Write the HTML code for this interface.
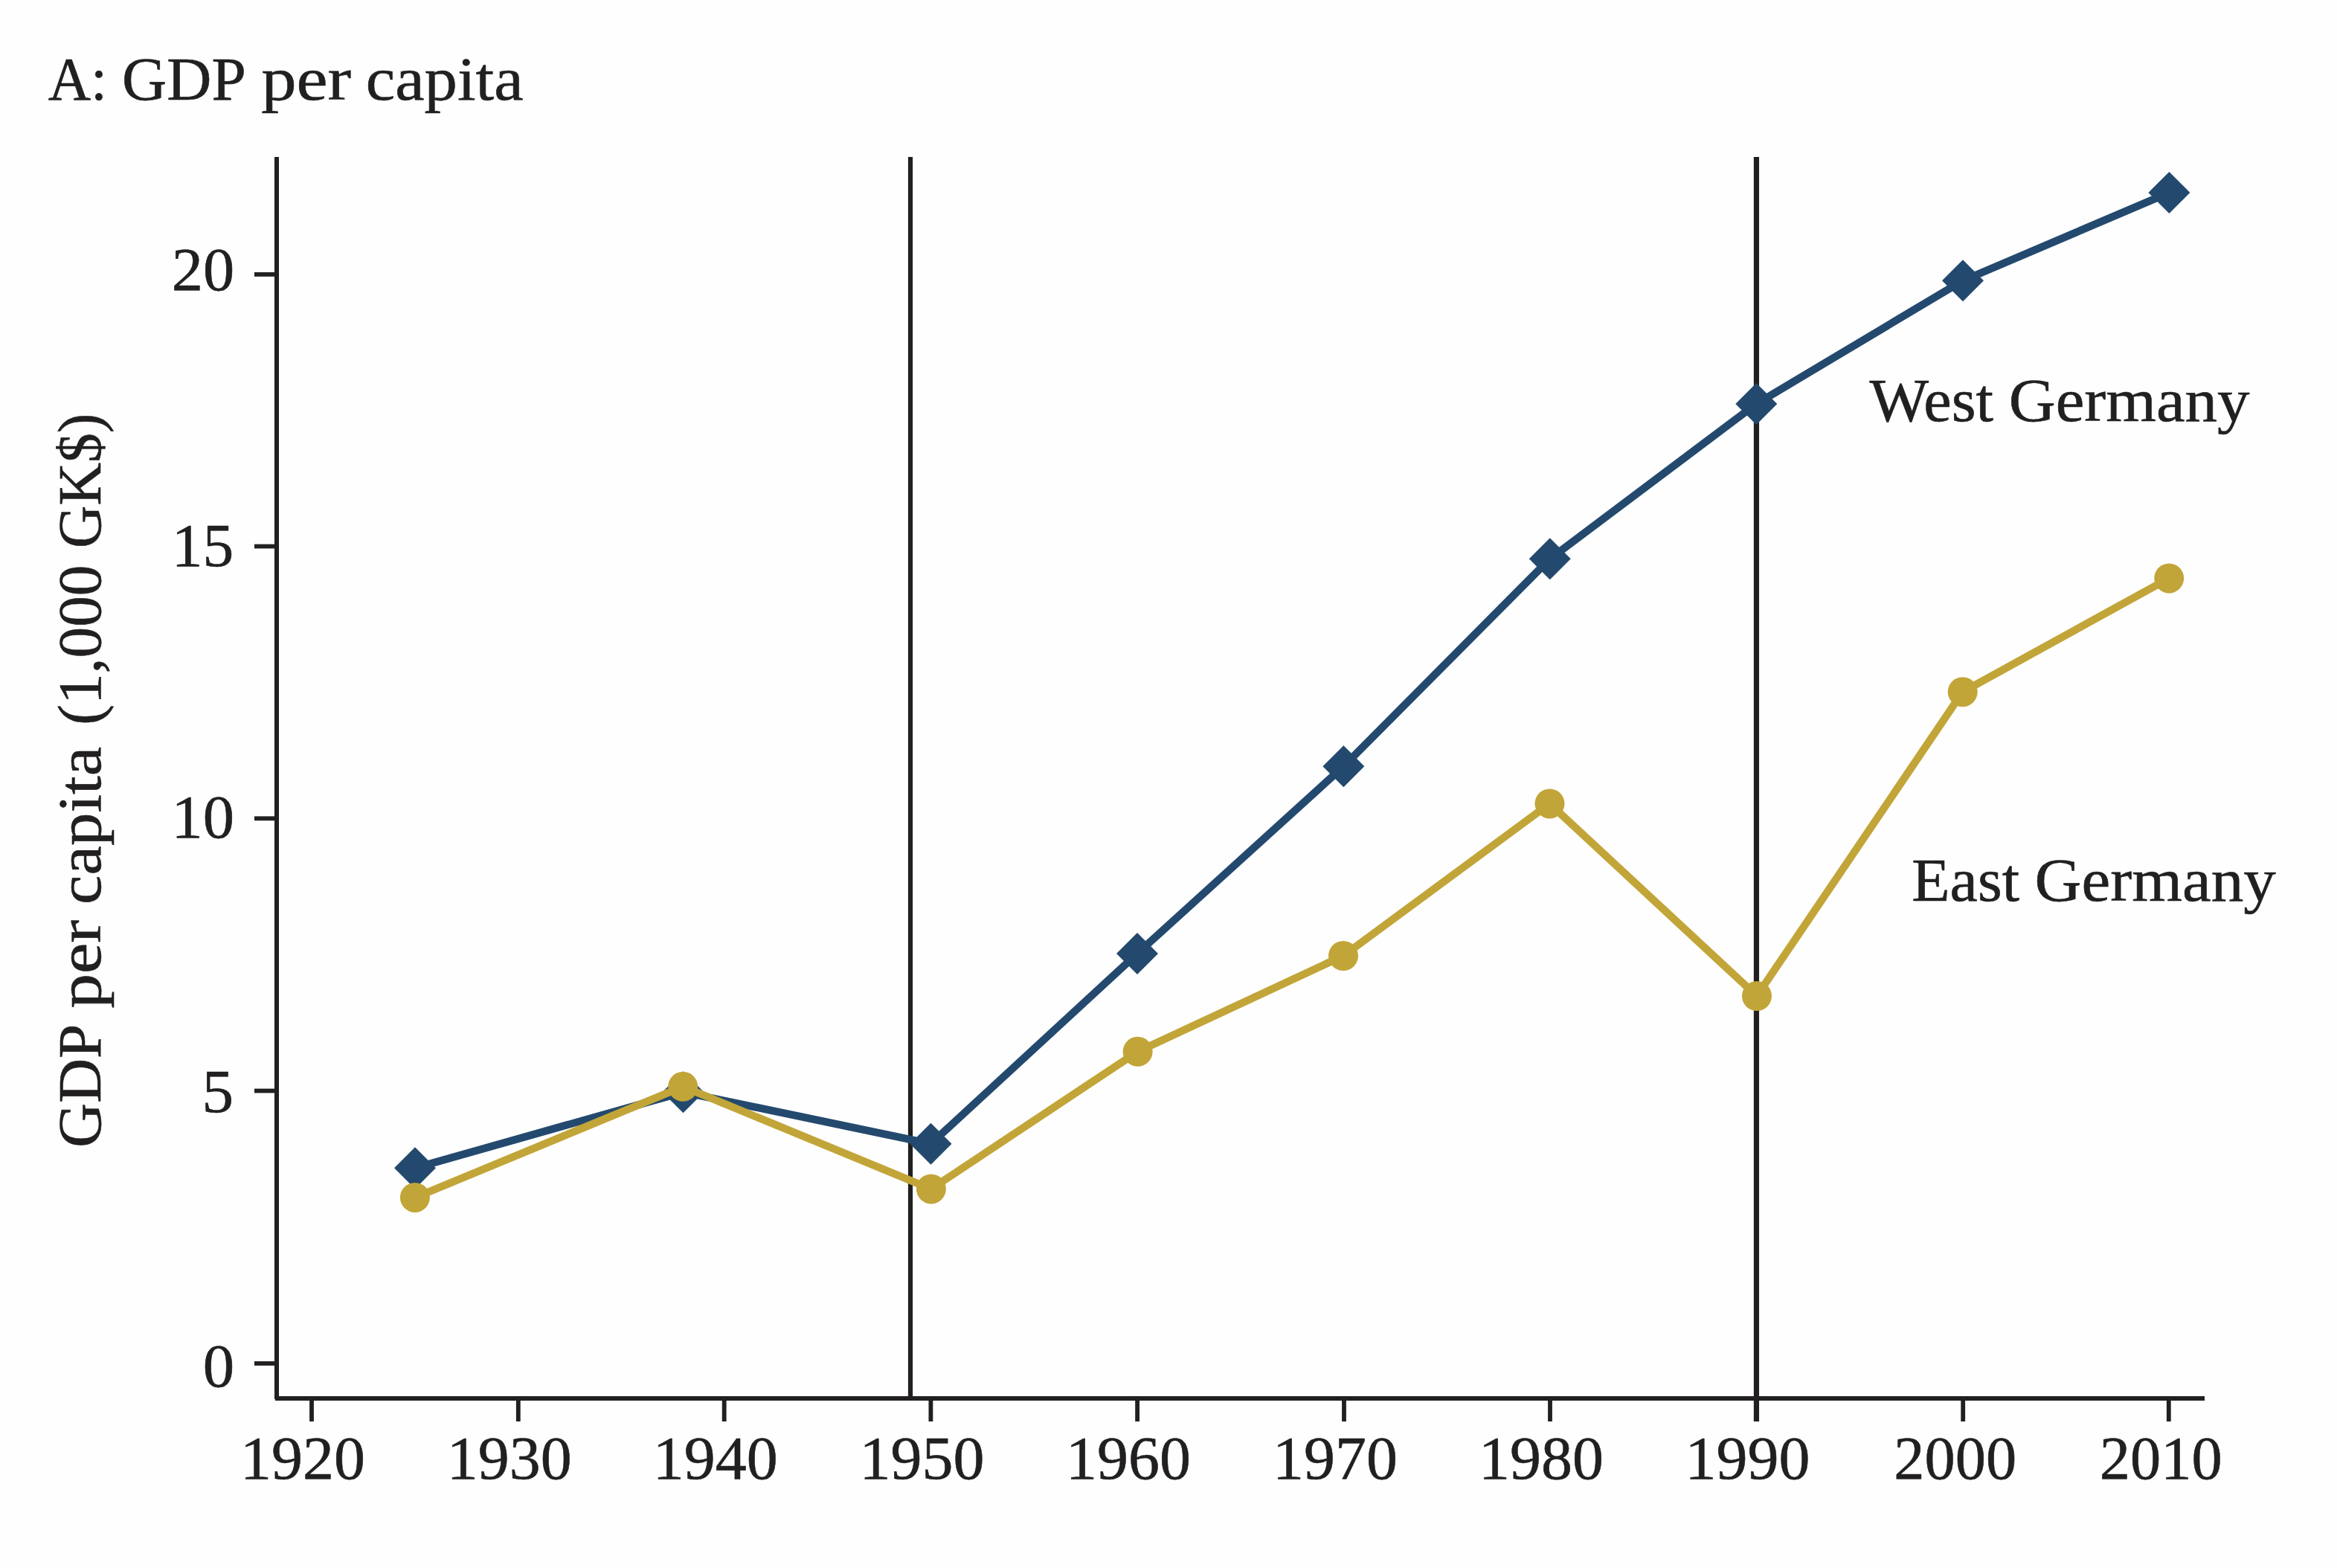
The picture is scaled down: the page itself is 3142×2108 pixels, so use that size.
<!DOCTYPE html>
<html><head><meta charset="utf-8"><title>GDP per capita</title>
<style>html,body{margin:0;padding:0;background:#fff;width:3142px;height:2108px;overflow:hidden}</style>
</head><body>
<svg width="3142" height="2108" viewBox="0 0 3142 2108" style="display:block;font-family:'Liberation Serif',serif" fill="#211f20"><style>text{stroke:#211f20;stroke-width:0.6px}</style>
<rect x="0" y="0" width="3142" height="2108" fill="#fefefe"/>
<rect x="369" y="211" width="6" height="1670" fill="#211f20"/>
<rect x="370" y="1877" width="2594" height="6" fill="#211f20"/>
<rect x="342" y="1830.1" width="28" height="5.8" fill="#211f20"/>
<rect x="342" y="1463.6" width="28" height="5.8" fill="#211f20"/>
<rect x="342" y="1097.4" width="28" height="5.8" fill="#211f20"/>
<rect x="342" y="731.6" width="28" height="5.8" fill="#211f20"/>
<rect x="342" y="366.0" width="28" height="5.8" fill="#211f20"/>
<rect x="416.1" y="1880" width="5.8" height="31" fill="#211f20"/>
<rect x="693.9" y="1880" width="5.8" height="31" fill="#211f20"/>
<rect x="970.8" y="1880" width="5.8" height="31" fill="#211f20"/>
<rect x="1248.5" y="1880" width="5.8" height="31" fill="#211f20"/>
<rect x="1526.2" y="1880" width="5.8" height="31" fill="#211f20"/>
<rect x="1804.1" y="1880" width="5.8" height="31" fill="#211f20"/>
<rect x="2081.1" y="1880" width="5.8" height="31" fill="#211f20"/>
<rect x="2358.5" y="1880" width="5.8" height="31" fill="#211f20"/>
<rect x="2636.3" y="1880" width="5.8" height="31" fill="#211f20"/>
<rect x="2912.9" y="1880" width="5.8" height="31" fill="#211f20"/>
<rect x="1220.9" y="211" width="6.2" height="1668" fill="#211f20"/>
<rect x="2357.85" y="211" width="7.2" height="1700" fill="#211f20"/>
<polyline points="558,1570.2 918.5,1468.2 1251.5,1537.7 1529,1282 1806.4,1030.3 2083.8,751.3 2361.3,543 2639,377.3 2916.4,258.9" fill="none" stroke="#24496e" stroke-width="10.3" stroke-linejoin="miter" stroke-linecap="butt"/>
<polygon points="558,1542.2 586,1570.2 558,1598.2 530,1570.2" fill="#24496e"/>
<polygon points="918.5,1440.2 946.5,1468.2 918.5,1496.2 890.5,1468.2" fill="#24496e"/>
<polygon points="1251.5,1509.7 1279.5,1537.7 1251.5,1565.7 1223.5,1537.7" fill="#24496e"/>
<polygon points="1529,1254 1557,1282 1529,1310 1501,1282" fill="#24496e"/>
<polygon points="1806.4,1002.3 1834.4,1030.3 1806.4,1058.3 1778.4,1030.3" fill="#24496e"/>
<polygon points="2083.8,723.3 2111.8,751.3 2083.8,779.3 2055.8,751.3" fill="#24496e"/>
<polygon points="2361.3,515 2389.3,543 2361.3,571 2333.3,543" fill="#24496e"/>
<polygon points="2639,349.3 2667,377.3 2639,405.3 2611,377.3" fill="#24496e"/>
<polygon points="2916.4,230.89999999999998 2944.4,258.9 2916.4,286.9 2888.4,258.9" fill="#24496e"/>
<polyline points="557.9,1609.9 918.2,1460.8 1251.9,1598.4 1529.6,1413.8 1806,1285 2083.5,1080.4 2362,1339 2638.7,930.2 2916.2,777.4" fill="none" stroke="#c2a538" stroke-width="10.3" stroke-linejoin="miter" stroke-linecap="butt"/>
<circle cx="557.9" cy="1609.9" r="20" fill="#c2a538"/>
<circle cx="918.2" cy="1460.8" r="20" fill="#c2a538"/>
<circle cx="1251.9" cy="1598.4" r="20" fill="#c2a538"/>
<circle cx="1529.6" cy="1413.8" r="20" fill="#c2a538"/>
<circle cx="1806" cy="1285" r="20" fill="#c2a538"/>
<circle cx="2083.5" cy="1080.4" r="20" fill="#c2a538"/>
<circle cx="2362" cy="1339" r="20" fill="#c2a538"/>
<circle cx="2638.7" cy="930.2" r="20" fill="#c2a538"/>
<circle cx="2916.2" cy="777.4" r="20" fill="#c2a538"/>
<text x="272.78" y="1864.21" font-size="83.50" textLength="42.40" lengthAdjust="spacingAndGlyphs">0</text>
<text x="271.63" y="1494.99" font-size="83.50" textLength="42.62" lengthAdjust="spacingAndGlyphs">5</text>
<text x="230.59" y="1125.57" font-size="83.50" textLength="84.59" lengthAdjust="spacingAndGlyphs">10</text>
<text x="230.69" y="761.19" font-size="83.50" textLength="83.46" lengthAdjust="spacingAndGlyphs">15</text>
<text x="230.76" y="390.39" font-size="83.50" textLength="84.41" lengthAdjust="spacingAndGlyphs">20</text>
<text x="323.03" y="1987.80" font-size="83.50" textLength="167.95" lengthAdjust="spacingAndGlyphs">1920</text>
<text x="600.83" y="1987.80" font-size="83.50" textLength="167.95" lengthAdjust="spacingAndGlyphs">1930</text>
<text x="877.73" y="1987.80" font-size="83.50" textLength="167.96" lengthAdjust="spacingAndGlyphs">1940</text>
<text x="1155.44" y="1987.80" font-size="83.50" textLength="167.96" lengthAdjust="spacingAndGlyphs">1950</text>
<text x="1433.13" y="1987.80" font-size="83.50" textLength="167.96" lengthAdjust="spacingAndGlyphs">1960</text>
<text x="1711.03" y="1987.80" font-size="83.50" textLength="167.95" lengthAdjust="spacingAndGlyphs">1970</text>
<text x="1988.03" y="1987.80" font-size="83.50" textLength="167.95" lengthAdjust="spacingAndGlyphs">1980</text>
<text x="2265.44" y="1987.80" font-size="83.50" textLength="167.96" lengthAdjust="spacingAndGlyphs">1990</text>
<text x="2546.28" y="1987.80" font-size="83.50" textLength="164.85" lengthAdjust="spacingAndGlyphs">2000</text>
<text x="2822.86" y="1987.80" font-size="83.50" textLength="164.85" lengthAdjust="spacingAndGlyphs">2010</text>
<text font-size="82.00"><tspan x="64.83" y="133.70" textLength="79.27" lengthAdjust="spacingAndGlyphs">A:</tspan> <tspan x="164.10" y="133.70" textLength="163.55" lengthAdjust="spacingAndGlyphs">GDP</tspan> <tspan x="351.15" y="133.70" textLength="120.99" lengthAdjust="spacingAndGlyphs">per</tspan> <tspan x="491.83" y="133.70" textLength="211.82" lengthAdjust="spacingAndGlyphs">capita</tspan></text>
<text font-size="82.00"><tspan x="2513.50" y="566.20" textLength="166.52" lengthAdjust="spacingAndGlyphs">West</tspan> <tspan x="2700.87" y="566.20" textLength="323.74" lengthAdjust="spacingAndGlyphs">Germany</tspan></text>
<text font-size="82.00"><tspan x="2570.27" y="1210.60" textLength="144.75" lengthAdjust="spacingAndGlyphs">East</tspan> <tspan x="2735.46" y="1210.60" textLength="324.54" lengthAdjust="spacingAndGlyphs">Germany</tspan></text>
<text transform="translate(135.10,0) rotate(-90)" font-size="82.00"><tspan x="-1542.70" y="0" textLength="162.82" lengthAdjust="spacingAndGlyphs">GDP</tspan> <tspan x="-1355.75" y="0" textLength="119.18" lengthAdjust="spacingAndGlyphs">per</tspan> <tspan x="-1216.07" y="0" textLength="212.39" lengthAdjust="spacingAndGlyphs">capita</tspan> <tspan x="-974.70" y="0" textLength="215.20" lengthAdjust="spacingAndGlyphs">(1,000</tspan> <tspan x="-737.06" y="0" textLength="181.29" lengthAdjust="spacingAndGlyphs">GK$)</tspan></text>
</svg>
</body></html>
